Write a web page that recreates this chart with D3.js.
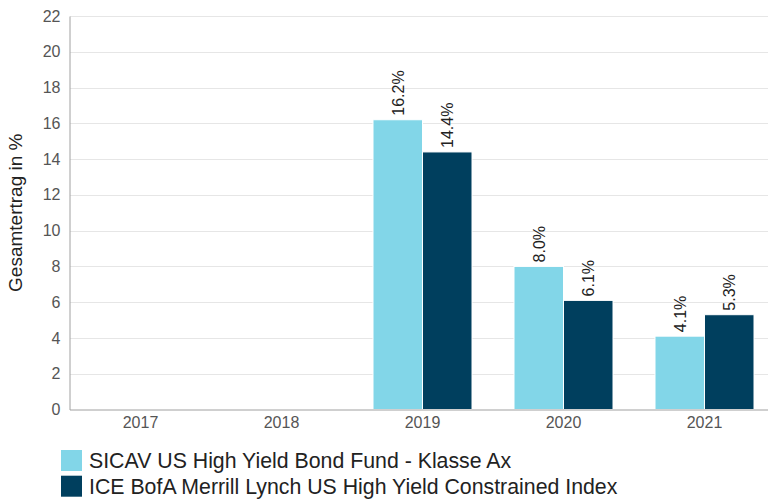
<!DOCTYPE html>
<html><head><meta charset="utf-8">
<script src="https://cdn.jsdelivr.net/npm/d3@7"></script>
<style>
body{margin:0;background:#fff;}
svg{display:block;font-family:"Liberation Sans",Arial,sans-serif;}
</style></head>
<body>
<svg id="c" width="768" height="499"></svg>
<script>
const categories = ["2017","2018","2019","2020","2021"];
const seriesNames = ["SICAV US High Yield Bond Fund - Klasse Ax","ICE BofA Merrill Lynch US High Yield Constrained Index"];
const fundValues = [null,null,16.2,8.0,4.1];
const indexValues = [null,null,14.4,6.1,5.3];
const yTicks = [0,2,4,6,8,10,12,14,16,18,20,22];
const colors = ["#82d6e8","#003f5e"];

const svg = d3.select("#c");
const L = 70, R = 775, T = 16, B = 409.5;
const x = d3.scaleBand().domain(categories).range([L, R]).paddingInner(0).paddingOuter(0);
const y = d3.scaleLinear().domain([0,22]).range([B, T]);
const barW = 49.5;
const x1 = d3.scaleBand().domain([0,1]).range([x.bandwidth()/2 - barW, x.bandwidth()/2 + barW]);

// gridlines
svg.append("g").selectAll("line").data(yTicks.filter(d=>d>0)).join("line")
  .attr("x1", L).attr("x2", 768).attr("y1", d=>Math.round(y(d))+0.5).attr("y2", d=>Math.round(y(d))+0.5)
  .attr("stroke","#e6e6e6").attr("stroke-width",1);

// y axis
const yAxis = svg.append("g").attr("transform",`translate(${L-0.5},0)`)
  .call(d3.axisLeft(y).tickValues(yTicks).tickSize(0).tickPadding(9));
yAxis.select(".domain").attr("stroke","#a0a0a0");
yAxis.selectAll("text").attr("font-size",16).attr("fill","#555").attr("font-family","Liberation Sans, Arial, sans-serif");

// bars
const series = [fundValues, indexValues];
series.forEach((vals, si) => {
  const data = categories.map((c,i)=>({c, v: vals[i]})).filter(d=>d.v!=null);
  svg.append("g").selectAll("rect").data(data).join("rect")
    .attr("x", d => x(d.c) + x1(si))
    .attr("y", d => y(d.v))
    .attr("width", x1.bandwidth())
    .attr("height", d => y(0) - y(d.v))
    .attr("fill", colors[si])
    .attr("stroke","#fff").attr("stroke-width",1);
  svg.append("g").selectAll("text").data(data).join("text")
    .attr("transform", d => `translate(${x(d.c) + x1(si) + x1.bandwidth()/2 + 6},${y(d.v) - 4}) rotate(-90)`)
    .attr("font-size",16).attr("fill","#222")
    .text(d => d.v.toFixed(1) + "%");
});

// x axis
const xAxis = svg.append("g").attr("transform",`translate(0,${B})`)
  .call(d3.axisBottom(x).tickSize(0).tickPadding(7.5));
xAxis.select(".domain").attr("stroke","#a0a0a0").attr("d",`M${L},0.5H768`);
xAxis.selectAll("text").attr("font-size",16).attr("fill","#555").attr("font-family","Liberation Sans, Arial, sans-serif");

// y title
svg.append("text").attr("transform",`translate(22,${(T+B)/2}) rotate(-90)`)
  .attr("text-anchor","middle").attr("font-size",19).attr("fill","#222").text("Gesamtertrag in %");

// legend
const lg = svg.append("g");
seriesNames.forEach((n,i)=>{
  lg.append("rect").attr("x",61).attr("y",450+i*25.7).attr("width",21).attr("height",21).attr("fill",colors[i]);
  lg.append("text").attr("x",89).attr("y",468+i*25.7).attr("font-size",21.3).attr("fill","#222").text(n);
});
</script>
</body></html>
